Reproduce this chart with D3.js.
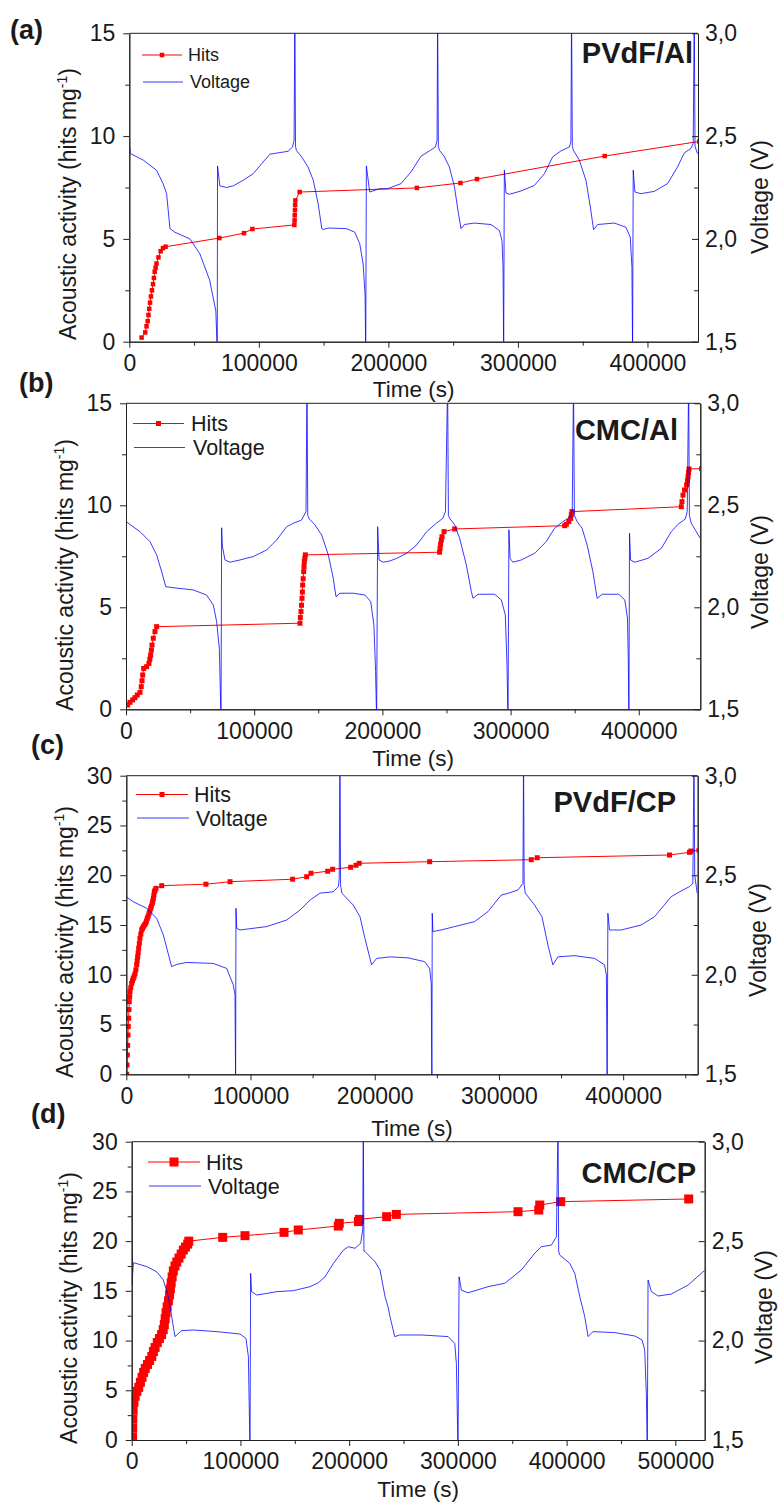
<!DOCTYPE html>
<html>
<head>
<meta charset="utf-8">
<script src="https://cdn.jsdelivr.net/npm/d3@7"></script>
<style>
  body { margin: 0; background: #fff; }
  svg text { font-family: "Liberation Sans", Arial, sans-serif; fill: #1a1a1a; }
</style>
</head>
<body>
<svg id="fig" width="778" height="1503"></svg>
<script>
// ---------- tick values and labels ----------
const timeTicks = [0, 100000, 200000, 300000, 400000, 500000];
const timeMinorTicks = [50000, 150000, 250000, 350000, 450000];
const hitsTicks15 = [0, 5, 10, 15];
const hitsMinor15 = [2.5, 7.5, 12.5];
const hitsTicks30 = [0, 5, 10, 15, 20, 25, 30];
const hitsMinor30 = [2.5, 7.5, 12.5, 17.5, 22.5, 27.5];
const voltTicks = [1.5, 2.0, 2.5, 3.0];
const voltMinorTicks = [1.75, 2.25, 2.75];
const seriesNames = ["Hits", "Voltage"];
const cellNames = ["PVdF/Al", "CMC/Al", "PVdF/CP", "CMC/CP"];
const panelTags = ["(a)", "(b)", "(c)", "(d)"];
const timeTitle = "Time (s)";
const voltTitle = "Voltage (V)";

// ---------- cumulative acoustic hits [time s, hits mg-1] ----------
const hitsA = [[9500,0.2],[12300,0.45],[13300,0.75],[14200,1.0],[14800,1.3],[15400,1.6],[16000,1.9],[16700,2.2],
  [17500,2.5],[18300,2.8],[19000,3.1],[19600,3.4],[20300,3.6],[21000,3.8],[22500,4.1],[24200,4.4],[26000,4.55],
  [28000,4.62],[69500,5.04],[88500,5.28],[95000,5.48],[127400,5.68],[127600,5.9],[127700,6.15],[127900,6.4],
  [128000,6.65],[128200,6.87],[131500,7.28],[222000,7.48],[255600,7.72],[268400,7.91],[367000,9.03],[440000,9.74]];

const hitsB = [[1300,0.21],[3100,0.34],[5200,0.46],[7000,0.57],[8800,0.7],[10900,0.83],[11900,1.11],[12500,1.4],
  [13000,1.68],[13800,2.0],[16100,2.09],[17900,2.25],[18600,2.45],[19200,2.66],[19800,2.9],[20300,3.15],
  [21300,3.48],[22600,3.81],[23900,4.05],[135700,4.22],[136000,4.5],[136500,4.79],[136900,5.1],[137300,5.44],
  [137600,5.75],[137800,6.09],[138200,6.4],[138600,6.75],[138900,7.0],[139100,7.24],[139500,7.4],[139900,7.57],
  [244600,7.7],[245000,7.9],[245400,8.1],[246000,8.3],[246500,8.46],[248100,8.71],[256400,8.84],[342200,9.0],
  [343500,9.07],[345500,9.2],[346900,9.36],[347400,9.55],[347900,9.69],[433200,9.93],[433700,10.18],
  [434500,10.5],[435700,10.75],[437300,11.0],[438000,11.2],[438400,11.4],[438800,11.6],[439200,11.78],[449000,11.8]];

const hitsC = [[300,0],[560,0.94],[830,1.94],[1100,2.9],[1370,3.95],[1600,4.8],[1900,5.63],[2150,6.5],[2400,7.3],
  [2700,7.8],[3000,8.3],[3600,8.7],[4300,9.14],[5000,9.4],[5660,9.64],[6300,9.85],[7000,10.1],[7700,10.5],
  [8350,11.0],[8750,11.4],[9150,11.8],[9550,12.2],[9960,12.66],[10500,13.15],[11000,13.66],[11700,14.1],
  [12400,14.5],[13000,14.65],[13700,14.83],[14600,15.0],[15600,15.17],[16200,15.4],[16900,15.67],[17600,15.9],
  [18300,16.17],[18900,16.4],[19600,16.67],[20200,16.9],[20900,17.18],[21300,17.4],[21800,17.68],[22200,18.0],
  [22600,18.35],[23200,18.5],[23900,18.68],[28500,18.95],[64100,19.1],[83500,19.35],[133900,19.6],[145200,19.85],
  [148700,20.2],[162100,20.4],[166100,20.6],[180600,20.8],[184900,21.0],[187500,21.2],[244200,21.36],[326000,21.56],
  [330800,21.76],[437300,22.03],[453400,22.3],[454500,22.43],[461000,22.5]];

const hitsD = [[800,0.3],[900,1.2],[1000,2.1],[1300,3.0],[2000,3.8],[3200,4.4],[4800,4.9],[6500,5.3],[8000,5.8],
  [9500,6.3],[11000,6.8],[12500,7.2],[14500,7.6],[16500,8.0],[18500,8.4],[20000,8.9],[21500,9.3],[23500,9.8],
  [25500,10.2],[27500,10.6],[29000,11.1],[30000,11.6],[30800,12.2],[31600,12.8],[32600,13.4],[33800,14.0],
  [34800,14.6],[35600,15.2],[36300,15.8],[37200,16.4],[38300,17.0],[39800,17.5],[41500,17.9],[43500,18.3],
  [45500,18.7],[47500,19.1],[49500,19.4],[51500,19.7],[52500,20.0],[83700,20.38],[104200,20.55],[140100,20.88],
  [153200,21.12],[190000,21.52],[190900,21.79],[208500,21.96],[209400,22.19],[234500,22.46],[243400,22.69],
  [355300,22.96],[374400,23.13],[375300,23.63],[394600,23.97],[512300,24.24]];

// ---------- cell voltage [time s, V] ----------
const voltA = [[0,2.47],[800,2.415],[10800,2.383],[21000,2.334],[26000,2.27],[28800,2.22],[31400,2.05],[35000,2.033],
  [46800,2.0],[54500,1.927],[62000,1.8],[66800,1.65],[67900,1.45],
  [68100,2.355],[69900,2.258],[75000,2.25],[80200,2.258],[87900,2.285],[95600,2.317],[103300,2.374],[108500,2.412],
  [116200,2.42],[122600,2.426],[126000,2.447],[127200,2.48],[127800,3.1],[128300,2.45],
  [129000,2.43],[132900,2.4],[138000,2.35],[142000,2.285],[145800,2.17],[148600,2.05],[150100,2.046],[153500,2.053],
  [167600,2.05],[174000,2.033],[177900,1.976],[180500,1.878],[182000,1.73],[182500,1.45],
  [183000,2.355],[185600,2.228],[193000,2.244],[199400,2.244],[209800,2.269],[217500,2.326],[225200,2.402],
  [231700,2.428],[236300,2.447],[237600,2.48],[238000,3.1],[238600,2.45],
  [239400,2.431],[243300,2.399],[247100,2.35],[251000,2.253],[254100,2.122],[256100,2.05],[258700,2.07],
  [266400,2.077],[279200,2.07],[285700,2.041],[287700,1.992],[288500,1.862],[289000,1.45],
  [289500,2.334],[290800,2.223],[293400,2.217],[302300,2.233],[312700,2.26],[320400,2.317],[326800,2.399],
  [333200,2.428],[339700,2.447],[340900,2.472],[341400,3.1],[342000,2.45],
  [342800,2.431],[347400,2.383],[352500,2.285],[355900,2.155],[358400,2.045],[361500,2.07],[374400,2.077],
  [383300,2.057],[386700,2.009],[388000,1.862],[388500,1.45],
  [389000,2.334],[390300,2.228],[394900,2.22],[405200,2.231],[415500,2.269],[423200,2.35],[428400,2.418],
  [433500,2.44],[435300,2.464],[436100,3.1],[436700,2.45],[438600,2.415]];

const voltB = [[0,2.42],[10900,2.371],[18700,2.322],[23900,2.257],[27800,2.175],[31000,2.101],[36900,2.096],
  [52500,2.085],[62900,2.06],[68100,2.011],[70700,1.93],[72800,1.8],[74100,1.45],
  [74600,2.39],[75200,2.3],[77200,2.232],[81100,2.221],[88900,2.232],[99300,2.249],[109700,2.281],[117500,2.33],
  [125300,2.395],[130500,2.412],[137000,2.428],[140400,2.469],[141200,3.1],[141800,2.45],
  [143000,2.433],[147400,2.404],[152600,2.355],[157800,2.257],[161700,2.142],[163800,2.052],[166900,2.069],
  [177300,2.069],[186400,2.06],[190900,2.028],[193400,1.913],[194700,1.685],[195500,1.45],
  [196300,2.395],[197400,2.232],[200600,2.221],[205800,2.227],[211200,2.24],[219000,2.265],[226800,2.306],
  [234600,2.371],[241100,2.407],[247100,2.436],[249200,2.469],[250900,3.1],[251500,2.45],
  [252500,2.436],[256400,2.404],[260300,2.338],[265500,2.207],[269400,2.077],[270700,2.044],[274600,2.064],
  [287600,2.064],[292800,2.036],[295900,1.963],[297200,1.717],[298000,1.45],
  [298700,2.38],[299600,2.24],[301800,2.221],[308300,2.232],[318800,2.265],[327800,2.322],[334300,2.387],
  [340800,2.42],[346800,2.444],[348100,2.477],[349100,3.1],[349800,2.45],
  [351900,2.42],[355800,2.387],[359700,2.306],[364200,2.175],[367500,2.044],[371500,2.064],[384400,2.064],
  [389100,2.036],[391200,1.946],[391900,1.717],[392300,1.45],
  [392800,2.363],[393600,2.232],[396900,2.221],[407200,2.24],[417600,2.289],[425400,2.371],[430600,2.407],
  [436300,2.433],[437800,2.469],[438900,3.1],[439500,2.45],[441000,2.412],[448000,2.338]];

const voltC = [[0,2.392],[5600,2.367],[16400,2.334],[24500,2.283],[29800,2.2],[36500,2.041],[40600,2.052],
  [48600,2.062],[70000,2.057],[80800,2.032],[86100,1.95],[87500,1.9],[88000,1.45],
  [88300,2.334],[88900,2.233],[91500,2.225],[113000,2.242],[129100,2.275],[139800,2.325],[147900,2.375],
  [155900,2.41],[166600,2.417],[170700,2.443],[171400,2.484],[172000,3.1],[172500,2.45],
  [173500,2.41],[182700,2.35],[188100,2.292],[192100,2.183],[197500,2.05],[201500,2.082],[212200,2.09],
  [226700,2.085],[240200,2.066],[244200,2.032],[245500,1.957],[246000,1.45],
  [246300,2.309],[246800,2.217],[253500,2.225],[264300,2.242],[280400,2.267],[291100,2.317],[301800,2.4],
  [307200,2.409],[315300,2.426],[319300,2.459],[319800,3.1],[320300,2.45],
  [321200,2.41],[328700,2.35],[334600,2.292],[339400,2.15],[343400,2.05],[347400,2.09],[360900,2.096],
  [377000,2.082],[385000,2.05],[386500,2.0],[387100,1.45],
  [387700,2.309],[389000,2.225],[398400,2.225],[414500,2.25],[425300,2.292],[438600,2.392],[444000,2.412],
  [453400,2.443],[456100,2.459],[457000,3.1],[457600,2.5],[459600,2.41]];

const voltD = [[0,2.73],[300,2.28],[1500,2.392],[13800,2.372],[23000,2.346],[29100,2.305],[33700,2.221],
  [36800,2.12],[39800,2.02],[46000,2.05],[56700,2.053],[78200,2.045],[99600,2.033],[105100,2.011],
  [107300,1.92],[108800,1.45],
  [109400,2.338],[110200,2.246],[115000,2.229],[124200,2.237],[133400,2.246],[148700,2.251],[164000,2.271],
  [171700,2.291],[177800,2.321],[185500,2.388],[194700,2.455],[199300,2.472],[205400,2.464],[210600,2.489],
  [212500,2.556],[213000,3.1],[213600,2.45],
  [214600,2.447],[223800,2.397],[228400,2.355],[233000,2.221],[235700,2.17],[237600,2.12],[241900,2.02],
  [246500,2.028],[266400,2.028],[291000,2.02],[297100,1.986],[298600,1.886],[300100,1.45],
  [301100,2.321],[303200,2.254],[309300,2.24],[327700,2.271],[343100,2.288],[358400,2.355],[370700,2.439],
  [376800,2.472],[386000,2.48],[390600,2.522],[392100,3.1],[392700,2.45],
  [393700,2.43],[402900,2.388],[407500,2.338],[412100,2.221],[416700,2.12],[419700,2.02],[424300,2.045],
  [444300,2.04],[462700,2.023],[469400,2.003],[471800,1.953],[473300,1.735],[474200,1.45],
  [474900,2.305],[478000,2.246],[484100,2.224],[496300,2.234],[511700,2.279],[525500,2.346],[527000,2.352]];

// ---------- panel layout ----------
const panels = [
  { tag: panelTags[0], cell: cellNames[0], hits: hitsA, volt: voltA, xMax: 439000, yMax: 15,
    yT: hitsTicks15, yMinor: hitsMinor15,
    l: 129.3, r: 698, t: 33.3, b: 341.7, marker: 4.5,
    tagX: 10, tagY: 39, cellX: 693, cellY: 63,
    xTitleY: 397, yTitle: [76, 204], vTitle: [768, 197],
    legend: { size: 18, x1: 142, x2: 182, hy: 55, vy: 82, tx: 188, hty: 61, vty: 88, mk: 4.5 } },
  { tag: panelTags[1], cell: cellNames[1], hits: hitsB, volt: voltB, xMax: 448000, yMax: 15,
    yT: hitsTicks15, yMinor: hitsMinor15,
    l: 126, r: 700.3, t: 403.3, b: 709.3, marker: 5,
    tagX: 19, tagY: 392, cellX: 678, cellY: 440,
    xTitleY: 766, yTitle: [73, 575], vTitle: [768, 572],
    legend: { size: 21.5, x1: 133, x2: 184, hy: 423.5, vy: 447.5, tx: 191, hty: 431, vty: 455, mk: 5 } },
  { tag: panelTags[2], cell: cellNames[2], hits: hitsC, volt: voltC, xMax: 460000, yMax: 30,
    yT: hitsTicks30, yMinor: hitsMinor30,
    l: 126.3, r: 697.7, t: 775.7, b: 1074.3, marker: 5,
    tagX: 31, tagY: 754, cellX: 676, cellY: 812,
    xTitleY: 1136, yTitle: [73, 942], vTitle: [766, 940],
    legend: { size: 21.5, x1: 136, x2: 188, hy: 794.5, vy: 818, tx: 194, hty: 801.5, vty: 825.5, mk: 5 } },
  { tag: panelTags[3], cell: cellNames[3], hits: hitsD, volt: voltD, xMax: 527000, yMax: 30,
    yT: hitsTicks30, yMinor: hitsMinor30,
    l: 131.7, r: 704.7, t: 1141.7, b: 1440, marker: 9,
    tagX: 31, tagY: 1123, cellX: 696, cellY: 1183,
    xTitleY: 1497, yTitle: [77, 1308], vTitle: [772, 1307],
    legend: { size: 21.5, x1: 148, x2: 200, hy: 1162, vy: 1186, tx: 206, hty: 1169.5, vty: 1193.5, mk: 9 } }
];

const RED = "#ff0000";
const BLUE = "#0000ff";
const AXIS = "#222";
const TICK_FONT = 23;

const svg = d3.select("#fig");
svg.append("rect").attr("width", 778).attr("height", 1503).attr("fill", "#fff");

function styleAxis(sel) {
  sel.attr("font-family", null).attr("font-size", TICK_FONT);
  sel.select(".domain").attr("stroke", AXIS).attr("stroke-width", 1);
  sel.selectAll(".tick line").attr("stroke", AXIS).attr("stroke-width", 1);
  sel.selectAll(".tick text").attr("fill", "#1a1a1a");
}

function drawPanel(p, i) {
  const g = svg.append("g").attr("class", "panel");
  const x = d3.scaleLinear().domain([0, p.xMax]).range([p.l, p.r]);
  const yH = d3.scaleLinear().domain([0, p.yMax]).range([p.b, p.t]);
  const yV = d3.scaleLinear().domain([1.5, 3.0]).range([p.b, p.t]);

  const clipId = "plot-clip-" + i;
  svg.append("clipPath").attr("id", clipId)
    .append("rect").attr("x", p.l).attr("y", p.t).attr("width", p.r - p.l).attr("height", p.b - p.t);

  const plot = g.append("g").attr("clip-path", `url(#${clipId})`);

  // hits: thin line plus square markers
  plot.append("path").datum(p.hits)
    .attr("d", d3.line().x(d => x(d[0])).y(d => yH(d[1])))
    .attr("fill", "none").attr("stroke", RED).attr("stroke-width", 1);
  plot.append("g").selectAll("rect").data(p.hits).join("rect")
    .attr("x", d => x(d[0]) - p.marker / 2).attr("y", d => yH(d[1]) - p.marker / 2)
    .attr("width", p.marker).attr("height", p.marker).attr("fill", RED);

  // voltage on the right axis
  plot.append("path").datum(p.volt)
    .attr("d", d3.line().x(d => x(d[0])).y(d => yV(d[1])))
    .attr("fill", "none").attr("stroke", BLUE).attr("stroke-opacity", 0.78).attr("stroke-width", 1)
    .attr("stroke-linejoin", "round");

  // bottom axis
  const xt = timeTicks.filter(v => v <= p.xMax);
  const xm = timeMinorTicks.filter(v => v <= p.xMax);
  g.append("g").attr("transform", `translate(0,${p.b})`)
    .call(d3.axisBottom(x).tickValues(xm).tickFormat("").tickSize(4).tickSizeOuter(0)).call(styleAxis);
  g.append("g").attr("transform", `translate(0,${p.b})`)
    .call(d3.axisBottom(x).tickValues(xt).tickFormat(d3.format("d")).tickSize(6).tickPadding(7).tickSizeOuter(0))
    .call(styleAxis);

  // left axis (hits)
  g.append("g").attr("transform", `translate(${p.l},0)`)
    .call(d3.axisLeft(yH).tickValues(p.yMinor).tickFormat("").tickSize(4).tickSizeOuter(0)).call(styleAxis);
  g.append("g").attr("transform", `translate(${p.l},0)`)
    .call(d3.axisLeft(yH).tickValues(p.yT).tickFormat(d3.format("d")).tickSize(6).tickPadding(8).tickSizeOuter(0))
    .call(styleAxis);

  // right axis (voltage), ticks pointing inward
  const vFmt = v => v.toFixed(1).replace(".", ",");
  g.append("g").attr("transform", `translate(${p.r},0)`)
    .call(d3.axisRight(yV).tickValues(voltMinorTicks).tickFormat("").tickSize(-4).tickSizeOuter(0)).call(styleAxis);
  g.append("g").attr("transform", `translate(${p.r},0)`)
    .call(d3.axisRight(yV).tickValues(voltTicks).tickFormat(vFmt).tickSize(-6).tickPadding(7).tickSizeOuter(0))
    .call(styleAxis);

  // top frame
  g.append("line").attr("x1", p.l).attr("x2", p.r).attr("y1", p.t).attr("y2", p.t)
    .attr("stroke", AXIS).attr("stroke-width", 1);

  // axis titles
  g.append("text").attr("x", (p.l + p.r) / 2).attr("y", p.xTitleY)
    .attr("text-anchor", "middle").attr("font-size", 22.5).text(timeTitle);

  const yt = g.append("text")
    .attr("transform", `translate(${p.yTitle[0]},${p.yTitle[1]}) rotate(-90)`)
    .attr("text-anchor", "middle").attr("font-size", 23);
  yt.append("tspan").text("Acoustic activity (hits mg");
  yt.append("tspan").attr("dy", -9).attr("font-size", 14).text("-1");
  yt.append("tspan").attr("dy", 9).text(")");

  g.append("text")
    .attr("transform", `translate(${p.vTitle[0]},${p.vTitle[1]}) rotate(-90)`)
    .attr("text-anchor", "middle").attr("font-size", 23).text(voltTitle);

  // panel tag and cell name
  g.append("text").attr("x", p.tagX).attr("y", p.tagY)
    .attr("font-family", "Lato, 'Open Sans', sans-serif").attr("font-weight", 700)
    .attr("font-size", 27).attr("fill", "#111").text(p.tag);
  g.append("text").attr("x", p.cellX).attr("y", p.cellY).attr("text-anchor", "end")
    .attr("font-family", "Lato, 'Open Sans', sans-serif").attr("font-weight", 700)
    .attr("font-size", 29).attr("fill", "#111").text(p.cell);

  // legend
  const L = p.legend;
  const lg = g.append("g").attr("font-size", L.size);
  lg.append("line").attr("x1", L.x1).attr("x2", L.x2).attr("y1", L.hy).attr("y2", L.hy)
    .attr("stroke", RED).attr("stroke-width", 1);
  lg.append("rect").attr("x", (L.x1 + L.x2) / 2 - L.mk / 2).attr("y", L.hy - L.mk / 2)
    .attr("width", L.mk).attr("height", L.mk).attr("fill", RED);
  lg.append("text").attr("x", L.tx).attr("y", L.hty).text(seriesNames[0]);
  lg.append("line").attr("x1", L.x1 + 1).attr("x2", L.x2 + 1).attr("y1", L.vy).attr("y2", L.vy)
    .attr("stroke", BLUE).attr("stroke-opacity", 0.78).attr("stroke-width", 1);
  lg.append("text").attr("x", L.tx + 2).attr("y", L.vty).text(seriesNames[1]);
}

panels.forEach(drawPanel);
</script>
</body>
</html>
